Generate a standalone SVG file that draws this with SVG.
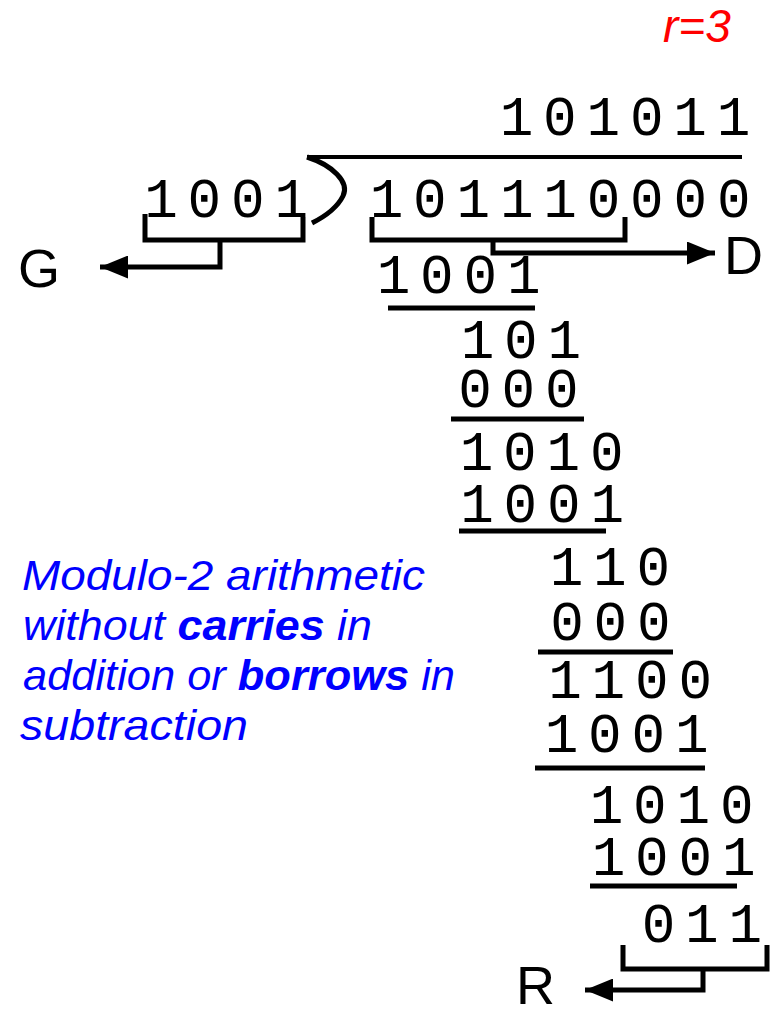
<svg xmlns="http://www.w3.org/2000/svg" width="772" height="1010" viewBox="0 0 772 1010">
<style>
.num{font-family:"Liberation Mono","Courier New",monospace;font-size:56px;letter-spacing:9.8px;fill:#000}
.lbl{font-family:"Liberation Sans",Arial,sans-serif;font-size:54px;fill:#000}
.note{font-family:"Liberation Sans",Arial,sans-serif;font-style:italic;font-size:42px;fill:#0000FF}
.ln{stroke:#000;stroke-width:5;fill:none}
.br{stroke:#000;stroke-width:5;fill:none;stroke-linejoin:miter}
</style>
<defs>
<marker id="ah" markerUnits="userSpaceOnUse" markerWidth="28" markerHeight="23" refX="28" refY="11.5" orient="auto">
<path d="M0,0 L28,11.5 L0,23 z" fill="#000"/>
</marker>
</defs>
<rect width="772" height="1010" fill="#fff"/>
<text x="663" y="42" font-family="Liberation Sans, Arial, sans-serif" font-style="italic" font-size="46" fill="#FF0000">r=3</text>
<g id="quotient"><text class="num" x="499.7" y="135">101011</text></g>
<g id="division-sign">
<path d="M307,157 H742" stroke="#000" stroke-width="4" fill="none"/>
<path d="M307,157 C332,165 350,182 343,196 C337,208 326,216 312,223" stroke="#000" stroke-width="5" fill="none"/>
</g>
<g id="divisor"><text class="num" x="144.2" y="217">1001</text></g>
<g id="dividend"><text class="num" x="369.7" y="217">101110000</text></g>
<g id="G"><text class="lbl" x="18" y="287">G</text></g>
<g id="D"><text class="lbl" x="724" y="274">D</text></g>
<g id="R"><text class="lbl" x="516" y="1004" font-size="50">R</text></g>
<g id="step1"><text class="num" x="376.7" y="293">1001</text><path class="ln" d="M388,308 H535"/></g>
<g id="step2"><text class="num" x="460.7" y="358">101</text><text class="num" x="458.2" y="407">000</text><path class="ln" d="M451,419 H584"/></g>
<g id="step3"><text class="num" x="459.7" y="470">1010</text><text class="num" x="460.2" y="522">1001</text><path class="ln" d="M459,531 H606"/></g>
<g id="step4"><text class="num" x="549.7" y="585">110</text><text class="num" x="550.2" y="640">000</text><path class="ln" d="M538,652 H673"/></g>
<g id="step5"><text class="num" x="548.2" y="698">1100</text><text class="num" x="544.7" y="752">1001</text><path class="ln" d="M535,768 H705"/></g>
<g id="step6"><text class="num" x="589.7" y="823">1010</text><text class="num" x="591.7" y="875">1001</text><path class="ln" d="M590,886 H737"/></g>
<g id="remainder"><text class="num" x="641.7" y="942">011</text></g>
<g id="connectors">
<path class="br" d="M145,214 V240 H303 V217"/>
<path class="br" d="M220,240 V267 H100" marker-end="url(#ah)"/>
<path class="br" d="M372,217 V240 H625 V217"/>
<path class="br" d="M493,240 V253 H715" marker-end="url(#ah)"/>
<path class="br" d="M623,945 V969 H767 V945"/>
<path class="br" d="M703,969 V990 H585" marker-end="url(#ah)"/>
</g>
<g id="note">
<text class="note" x="22" y="590" textLength="403" lengthAdjust="spacingAndGlyphs">Modulo-2 arithmetic</text>
<text class="note" x="23" y="640" textLength="349" lengthAdjust="spacingAndGlyphs">without <tspan font-weight="bold">carries</tspan> in</text>
<text class="note" x="23" y="690" textLength="432" lengthAdjust="spacingAndGlyphs">addition or <tspan font-weight="bold">borrows</tspan> in</text>
<text class="note" x="20" y="740" textLength="228" lengthAdjust="spacingAndGlyphs">subtraction</text>
</g>
</svg>
